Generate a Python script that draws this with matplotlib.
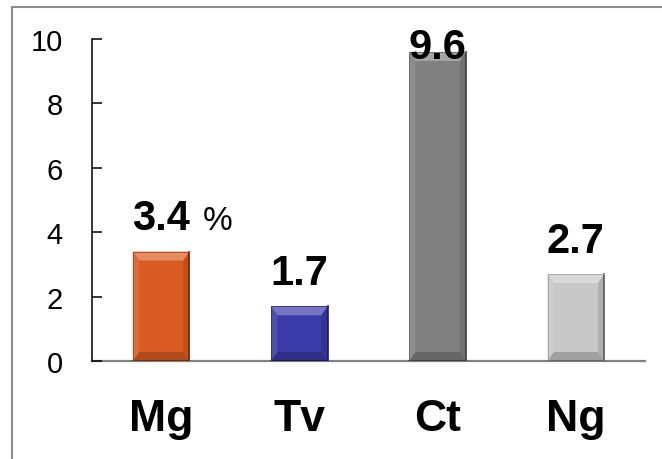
import matplotlib
matplotlib.use('Agg')
import matplotlib.pyplot as plt
import matplotlib.colors as mcolors
from matplotlib.patches import Rectangle

plt.rcParams['font.family'] = ['Liberation Sans', 'DejaVu Sans']

categories = ['Mg', 'Tv', 'Ct', 'Ng']
values = [3.4, 1.7, 9.6, 2.7]
labels = ['3.4', '1.7', '9.6', '2.7']
colors = ['#D95C22', '#3A3AA8', '#808080', '#C8C8C8']
yticks = [0, 2, 4, 6, 8, 10]


def shade(c, f):
    # f > 0 mixes towards white, f < 0 towards black
    r, g, b = mcolors.to_rgb(c)
    if f >= 0:
        return (r + (1 - r) * f, g + (1 - g) * f, b + (1 - b) * f)
    return (r * (1 + f), g * (1 + f), b * (1 + f))


fig = plt.figure(figsize=(6.62, 4.6), dpi=100)
ax = fig.add_axes([92 / 662, 98 / 460, 553 / 662, 322 / 460])

# outer frame
fig.patches.append(Rectangle((12 / 662, -0.1), 1.1, 1 - 8 / 460 + 0.1,
                             transform=fig.transFigure, fill=False,
                             edgecolor='#8C8C8C', linewidth=1.5))

width = 0.41
bx, by = 0.045, 0.28
for i, (v, c) in enumerate(zip(values, colors)):
    x0, x1 = i - width / 2, i + width / 2
    ax.bar(i, v, width=width, color=c, edgecolor='none', zorder=2)
    ax.fill([x0, x1, x1 - bx, x0 + bx], [v, v, v - by, v - by],
            color=shade(c, 0.3), lw=0, zorder=3)
    ax.fill([x0, x1, x1 - bx, x0 + bx], [0, 0, by, by],
            color=shade(c, -0.2), lw=0, zorder=3)
    ax.fill([x0, x0, x0 + bx, x0 + bx], [0, v, v - by, by],
            color=shade(c, 0.1), lw=0, zorder=3)
    ax.fill([x1, x1, x1 - bx, x1 - bx], [0, v, v - by, by],
            color=shade(c, -0.12), lw=0, zorder=3)
    ax.plot([x1, x1, x0], [v, 0, 0], color=shade(c, -0.55), lw=1.2, zorder=4)
    ax.plot([x0, x0, x1], [0, v, v], color=shade(c, -0.2), lw=0.6, zorder=4)

    ty = min(v + 0.7, 9.4)
    ax.text(i, ty, labels[i], ha='center', va='baseline', fontsize=30,
            fontweight='bold', zorder=5)

ax.text(0 + 0.3, 4.1, '%', ha='left', va='baseline', fontsize=24)

ax.set_xlim(-0.5, 3.5)
ax.set_ylim(0, 10)
ax.set_yticks(yticks)
ax.set_xticks(range(len(categories)))
ax.set_xticklabels(categories, fontsize=32, fontweight='bold')
ax.tick_params(axis='x', length=0, pad=27)
ax.tick_params(axis='y', direction='in', length=7, width=1.1, labelsize=21, pad=21)

for s in ['top', 'right']:
    ax.spines[s].set_visible(False)
ax.spines['left'].set_linewidth(1.1)
ax.spines['bottom'].set_color('#808080')
ax.spines['bottom'].set_linewidth(1.6)
ax.spines['bottom'].set_zorder(1)

fig.savefig('out.png', dpi=100)
